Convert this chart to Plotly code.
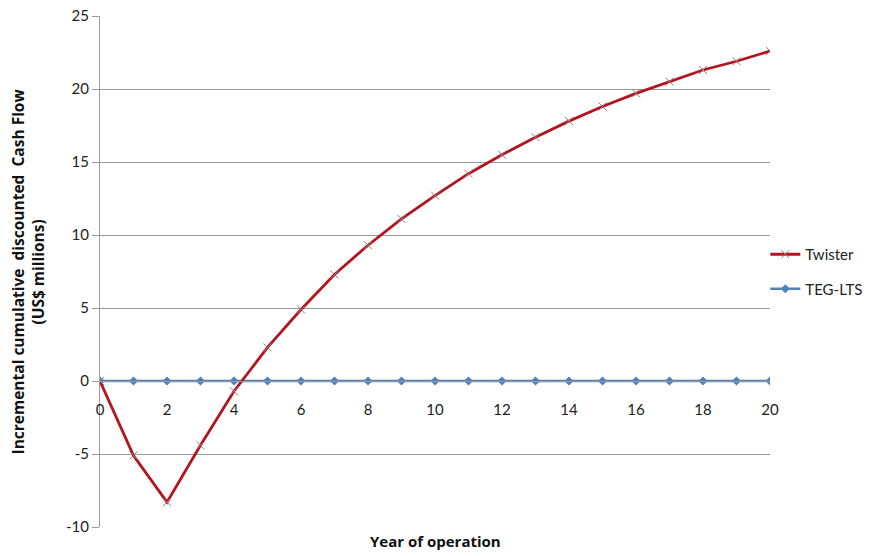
import plotly.graph_objects as go

years = list(range(0, 21))
twister = [0, -5.1, -8.3, -4.4, -0.7, 2.3, 4.9, 7.3, 9.3, 11.1, 12.7, 14.2, 15.5,
           16.7, 17.8, 18.8, 19.7, 20.5, 21.3, 21.9, 22.6]
teg_lts = [0] * 21
y_ticks = [-10, -5, 0, 5, 10, 15, 20, 25]
x_ticks = [0, 2, 4, 6, 8, 10, 12, 14, 16, 18, 20]

RED = "#B3141E"
BLUE = "#4F81BD"
FONT = "Lato, 'Open Sans', sans-serif"
TITLE_FONT = "'Open Sans', Lato, sans-serif"

fig = go.Figure()
fig.add_trace(go.Scatter(
    x=years, y=teg_lts, name="TEG-LTS", mode="lines+markers",
    line=dict(color=BLUE, width=2.5),
    marker=dict(symbol="diamond", size=7, color=BLUE),
    legendgroup="b", legendrank=2,
))
fig.add_trace(go.Scatter(
    x=years, y=twister, name="Twister", mode="lines+markers",
    line=dict(color=RED, width=2.8),
    marker=dict(symbol="x-thin", size=8, line=dict(color="#9a7a7a", width=1)),
    legendgroup="a", legendrank=1,
))

fig.update_layout(
    width=873, height=556,
    margin=dict(l=100, r=103, t=16, b=29, autoexpand=False),
    paper_bgcolor="white", plot_bgcolor="white",
    font=dict(family=FONT, size=15, color="#222"),
    showlegend=True,
    legend=dict(x=0.993, xanchor="left", y=0.5, yanchor="middle",
                font=dict(size=15, color="#222"), tracegroupgap=12,
                bgcolor="rgba(0,0,0,0)"),
    xaxis=dict(
        range=[0, 20], tickvals=x_ticks, ticktext=[str(v) for v in x_ticks],
        anchor="free", position=10 / 35, automargin=False,
        showgrid=False, zeroline=False,
        showline=True, linecolor="#9a9a9a", linewidth=1,
        ticks="", ticklabelstandoff=15, tickfont=dict(size=15, color="#222"),
    ),
    yaxis=dict(
        range=[-10, 25], tickvals=y_ticks, ticktext=[str(v) for v in y_ticks],
        automargin=False,
        showgrid=True, gridcolor="#9a9a9a", gridwidth=1,
        zeroline=False, showline=True, linecolor="#9a9a9a", linewidth=1,
        ticks="outside", ticklen=7, tickcolor="#9a9a9a",
        tickfont=dict(size=15, color="#222"),
    ),
    annotations=[
        dict(text="<b>Year of operation</b>", x=0.5, y=-14 / 511, xref="paper",
             yref="paper", showarrow=False, yanchor="middle",
             font=dict(family=TITLE_FONT, size=15, color="#111")),
        dict(text="<b>Incremental cumulative  discounted  Cash Flow<br>(US$ millions)</b>",
             x=-73 / 670, y=0.5, xref="paper", yref="paper", showarrow=False,
             textangle=-90, xanchor="center", yanchor="middle",
             font=dict(family=TITLE_FONT, size=15.5, color="#111")),
    ],
)

# remove the page's default 8px body margin so the figure fills the window exactly
fig.write_html("out.html",
               config={"displayModeBar": False},
               post_script="document.body.style.margin='0';"
                           "document.body.style.overflow='hidden';")
